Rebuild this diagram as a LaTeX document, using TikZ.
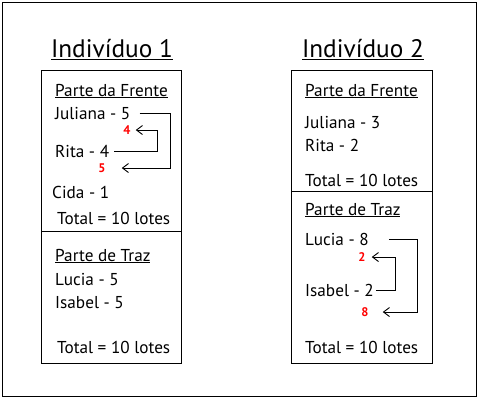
\documentclass[tikz,border=0pt]{standalone}
\usepackage{fontspec}
\setmainfont{PT Sans}
\usetikzlibrary{arrows.meta}
\tikzset{
  txt/.style={anchor=base west, inner sep=0pt, font=\fontsize{17.2}{17}\selectfont},
  titulo/.style={anchor=base, inner sep=0pt, font=\fontsize{25.3}{25}\selectfont},
  num/.style={inner sep=0pt, text=red, font=\bfseries\fontsize{12.5}{12}\selectfont},
  seta/.style={line width=0.9pt, -{Straight Barb[length=6pt,width=9pt]}},
  caixa/.style={line width=1pt}
}
\begin{document}
\begin{tikzpicture}[x=1pt,y=-1pt]
      \useasboundingbox (0,0) rectangle (480,400);
      \draw[caixa] (2,2) rectangle (476,396);

      % individuo 1
      \node[titulo] (ind1) at (112,57) {\underline{Indivíduo 1}};
      \draw[caixa] (41,70) rectangle (181,363);
      \draw[caixa] (41,231) -- (181,231);
      \node[txt] (pf1) at (55,96) {\underline{Parte da Frente}};
      \node[txt] (jul1) at (55,119) {Juliana - 5};
      \node[txt] (rita1) at (55,157) {Rita - 4};
      \node[txt] (cida1) at (52,198) {Cida - 1};
      \node[txt] (tot1a) at (57,224) {Total = 10 lotes};
      \node[txt] (pt1) at (55,261) {\underline{Parte de Traz}};
      \node[txt] (luc1) at (55,285) {Lucia - 5};
      \node[txt] (isa1) at (55,308) {Isabel - 5};
      \node[txt] (tot1b) at (57,353) {Total = 10 lotes};
      \node[num] (n4) at (127,130) {4};
      \node[num] (n5) at (102,168) {5};

      \draw[seta] ([xshift=9pt]jul1.east) -- (170,0 |- jul1.east) |- ([xshift=16pt]n5.east);
      \draw[seta] ([xshift=5pt]rita1.east) -- (157,0 |- rita1.east) |- ([xshift=5pt]n4.east);

      % individuo 2
      \node[titulo] (ind2) at (363,57) {\underline{Indivíduo 2}};
      \draw[caixa] (291,70) rectangle (432,363);
      \draw[caixa] (291,191) -- (432,191);
      \node[txt] (pf2) at (305,96) {\underline{Parte da Frente}};
      \node[txt] (jul2) at (305,128) {Juliana - 3};
      \node[txt] (rita2) at (305,151) {Rita - 2};
      \node[txt] (tot2a) at (305,186) {Total = 10 lotes};
      \node[txt] (pt2) at (305,215) {\underline{Parte de Traz}};
      \node[txt] (luc2) at (305,245) {Lucia - 8};
      \node[txt] (isa2) at (305,296) {Isabel - 2};
      \node[txt] (tot2b) at (305,353) {Total = 10 lotes};
      \node[num] (n2) at (362,257) {2};
      \node[num] (n8) at (365,312) {8};

      \draw[seta] ([xshift=20pt]luc2.east) -- (417,0 |- luc2.east) |- ([xshift=14pt]n8.east);
      \draw[seta] ([xshift=2pt]isa2.east) -- (395,0 |- isa2.east) |- ([xshift=6pt]n2.east);
\end{tikzpicture}
\end{document}
